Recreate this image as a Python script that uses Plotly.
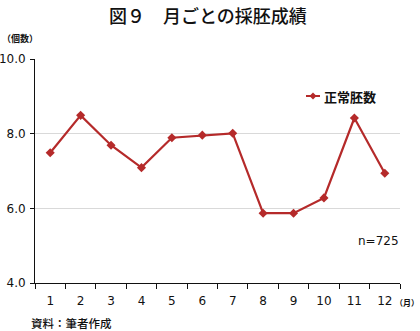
import plotly.graph_objects as go

months = ["1", "2", "3", "4", "5", "6", "7", "8", "9", "10", "11", "12"]
normal_embryos = [7.49, 8.49, 7.69, 7.09, 7.89, 7.96, 8.01, 5.87, 5.87, 6.28, 8.42, 6.94]
series_name = "正常胚数"
y_ticks = [4.0, 6.0, 8.0, 10.0]
y_tick_labels = ["4.0", "6.0", "8.0", "10.0"]

RED = "#b52a2a"
FONT = "DejaVu Sans, Noto Sans CJK JP, sans-serif"
JFONT = "Noto Sans CJK JP, sans-serif"

# plot area in pixels
W, H = 420, 331
L, R, T, B = 35, 20, 59, 48
PW, PH = W - L - R, H - T - B


def px(x):
    return (x - L) / PW


def py(y):
    return (H - B - y) / PH


fig = go.Figure()
fig.add_trace(go.Scatter(
    x=months, y=normal_embryos, name=series_name, mode="lines+markers",
    line=dict(color=RED, width=2.2),
    marker=dict(symbol="diamond", size=7, color=RED),
    showlegend=False,
))

fig.update_layout(
    width=W, height=H,
    margin=dict(l=L, r=R, t=T, b=B, autoexpand=False),
    paper_bgcolor="white", plot_bgcolor="white",
    font=dict(family=FONT, size=11, color="#111"),
    xaxis=dict(
        type="category", range=[-0.5, len(months) - 0.5],
        tickson="boundaries", ticks="outside", ticklen=5,
        tickcolor="#111", showline=True, linecolor="#111", linewidth=1,
        showgrid=False, tickfont=dict(size=12, color="#111"),
        ticklabelstandoff=7, fixedrange=True, automargin=False,
    ),
    yaxis=dict(
        range=[4, 10], tickvals=y_ticks, ticktext=y_tick_labels,
        ticks="outside", ticklen=4, tickcolor="#111",
        showline=True, linecolor="#111", linewidth=1,
        showgrid=True, gridcolor="#d9d9d9", gridwidth=1, zeroline=False,
        tickfont=dict(size=12, color="#111"), fixedrange=True, automargin=False,
        ticklabelstandoff=2,
    ),
)

# legend drawn manually
ly = 96
fig.add_shape(type="line", xref="paper", yref="paper",
              x0=px(306), x1=px(320), y0=py(ly), y1=py(ly),
              line=dict(color=RED, width=2))
d = 3.5
cx = 313
fig.add_shape(type="path", xref="paper", yref="paper",
              path=f"M {px(cx)},{py(ly-d)} L {px(cx+d)},{py(ly)} L {px(cx)},{py(ly+d)} L {px(cx-d)},{py(ly)} Z",
              fillcolor=RED, line=dict(color=RED, width=0))

annotations = [
    dict(text="図９　月ごとの採胚成績", x=px(208), y=py(15), xanchor="center", yanchor="middle",
         font=dict(family="Noto Sans CJK JP, sans-serif", size=18, color="#111", weight=500)),
    dict(text="<b>" + series_name + "</b>", x=px(322), y=py(ly), xanchor="left", yanchor="middle",
         font=dict(family=JFONT, size=13, color="#111")),
    dict(text="（個数）", x=px(0), y=py(38), xanchor="left", yanchor="middle",
         font=dict(family=JFONT, size=9, color="#111", weight=600)),
    dict(text="（月）", x=px(393), y=py(302), xanchor="left", yanchor="middle",
         font=dict(family=JFONT, size=8, color="#111", weight=600)),
    dict(text="n=725", x=px(401), y=py(241), xanchor="right", yanchor="middle",
         font=dict(family=FONT, size=12, color="#111")),
    dict(text="資料：筆者作成", x=px(29), y=py(323), xanchor="left", yanchor="middle",
         font=dict(family=JFONT, size=11.5, color="#111", weight=500)),
]
for a in annotations:
    a.update(xref="paper", yref="paper", showarrow=False)
    fig.add_annotation(**a)

fig.write_html("out.html")
